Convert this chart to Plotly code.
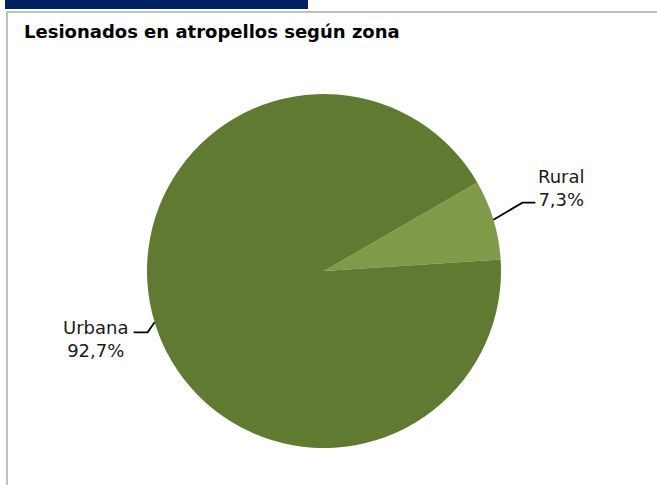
import math
import plotly.graph_objects as go

# Data
categories = ["Rural", "Urbana"]
values = [7.3, 92.7]
value_labels = ["7,3%", "92,7%"]
colors = ["#809a4a", "#617a31"]
title_text = "Lesionados en atropellos según zona"

W, H = 657, 485
rotation = 60
# pie geometry (pixels)
cx, cy, r = 324, 271, 177

fig = go.Figure()
fig.add_trace(go.Pie(
    labels=categories,
    values=values,
    marker=dict(colors=colors, line=dict(width=0)),
    textinfo="none",
    hoverinfo="label+percent",
    sort=False,
    direction="clockwise",
    rotation=rotation,
    showlegend=False,
    domain=dict(x=[(cx - r) / W, (cx + r) / W], y=[(H - cy - r) / H, (H - cy + r) / H]),
))

def px(x):
    return x / W

def py(y):
    return 1 - y / H

shapes = []
annotations = []
total = sum(values)
cum = 0
label_font = dict(family="DejaVu Sans", size=18, color="#1a1a1a")
for cat, val, lab in zip(categories, values, value_labels):
    frac = val / total
    theta = math.radians(rotation + 360 * (cum + frac / 2))
    cum += frac
    ex = cx + r * math.sin(theta)
    ey = cy - r * math.cos(theta)
    if math.sin(theta) > 0:
        elx, ely = ex + 29, ey - 17
        endx = elx + 13
        ax, ay = endx + 26, ely - 15
    else:
        elx, ely = ex - 7, ey + 10
        endx = elx - 14
        ax, ay = endx - 38, ely + 7
    path = f"M {px(ex)},{py(ey)} L {px(elx)},{py(ely)} L {px(endx)},{py(ely)}"
    shapes.append(dict(type="path", xref="paper", yref="paper", path=path,
                       line=dict(color="#000000", width=1.8)))
    annotations.append(dict(x=px(ax), y=py(ay), xref="paper", yref="paper",
                            text=f"{cat}<br>{lab}", showarrow=False, xanchor="center",
                            yanchor="middle", align="center", font=label_font))

# title
annotations.append(dict(x=px(22), y=py(32), xref="paper", yref="paper", text=f"<b>{title_text}</b>",
                        showarrow=False, xanchor="left", yanchor="middle",
                        font=dict(family="DejaVu Sans", size=18, color="#000000")))

# decorations: blue header bar and gray frame
shapes.append(dict(type="rect", xref="paper", yref="paper", x0=px(5), x1=px(308), y0=py(9), y1=py(0),
                   fillcolor="#002060", line=dict(width=0), layer="above"))
shapes.append(dict(type="line", xref="paper", yref="paper", x0=px(6), x1=px(W), y0=py(12), y1=py(12),
                   line=dict(color="#c0c0c0", width=2)))
shapes.append(dict(type="line", xref="paper", yref="paper", x0=px(7), x1=px(7), y0=py(12), y1=py(H),
                   line=dict(color="#c0c0c0", width=2)))

fig.update_layout(
    width=W, height=H,
    margin=dict(l=0, r=0, t=0, b=0),
    paper_bgcolor="#ffffff",
    plot_bgcolor="#ffffff",
    shapes=shapes,
    annotations=annotations,
)

fig.write_html("out.html",
               config={"displayModeBar": False},
               post_script="document.body.style.margin='0';document.body.style.padding='0';document.body.style.overflow='hidden';")
